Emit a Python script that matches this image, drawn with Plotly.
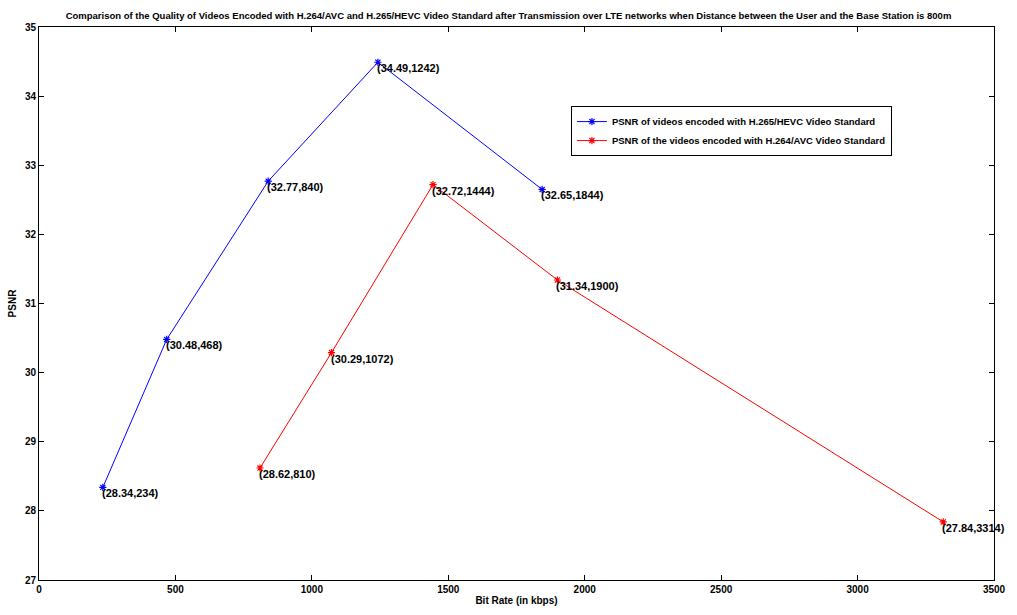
import plotly.graph_objects as go

# Bit rate (kbps) and PSNR (dB) for each codec
hevc_rate = [234, 468, 840, 1242, 1844]
hevc_psnr = [28.34, 30.48, 32.77, 34.49, 32.65]
avc_rate = [810, 1072, 1444, 1900, 3314]
avc_psnr = [28.62, 30.29, 32.72, 31.34, 27.84]

x_ticks = [0, 500, 1000, 1500, 2000, 2500, 3000, 3500]
y_ticks = [27, 28, 29, 30, 31, 32, 33, 34, 35]

FONT = "Liberation Sans, Arial, sans-serif"


def point_labels(rates, psnrs):
    return [f"({p:.2f},{r})" for r, p in zip(rates, psnrs)]


fig = go.Figure()
for name, rates, psnrs, color in [
    ("PSNR of videos encoded with H.265/HEVC Video Standard", hevc_rate, hevc_psnr, "#0000ff"),
    ("PSNR of the videos encoded with H.264/AVC Video Standard", avc_rate, avc_psnr, "#ff0000"),
]:
    fig.add_trace(go.Scatter(
        x=rates, y=psnrs, name=f"<b>{name}</b>",
        mode="lines+markers",
        line=dict(color=color, width=1),
        marker=dict(symbol="asterisk-open", size=6, color=color,
                    line=dict(color=color, width=1.2)),
    ))
    # value labels placed just below-right of each point
    for r, p, t in zip(rates, psnrs, point_labels(rates, psnrs)):
        fig.add_annotation(x=r, y=p, text=f"<b>{t}</b>", showarrow=False,
                           xanchor="left", yanchor="top", xshift=-3, yshift=2,
                           font=dict(family=FONT, size=11, color="black"))

axis_common = dict(
    showline=True, linecolor="black", linewidth=1, mirror="ticks",
    ticks="inside", ticklen=5, tickcolor="black", tickwidth=1,
    showgrid=False, zeroline=False,
    tickfont=dict(family=FONT, size=10, color="black"),
)

fig.update_layout(
    width=1017, height=615,
    margin=dict(l=39, r=11, t=27, b=27),
    paper_bgcolor="white", plot_bgcolor="white",
    title=dict(
        text="<b>Comparison of the Quality of Videos Encoded with H.264/AVC and H.265/HEVC Video Standard "
             "after Transmission over LTE networks when Distance between the User and the Base Station is 800m</b>",
        x=0.5, xanchor="center", y=0.975, yanchor="middle",
        font=dict(family=FONT, size=9.5, color="black"),
    ),
    xaxis=dict(range=[0, 3500], tickvals=x_ticks,
               ticktext=[f"<b>{v}</b>" for v in x_ticks],
               title=dict(text="<b>Bit Rate (in kbps)</b>", standoff=2,
                          font=dict(family=FONT, size=10, color="black")),
               **axis_common),
    yaxis=dict(range=[27, 35], tickvals=y_ticks,
               ticktext=[f"<b>{v}</b>" for v in y_ticks],
               title=dict(text="<b>PSNR</b>", standoff=6,
                          font=dict(family=FONT, size=10, color="black")),
               **axis_common),
    legend=dict(x=0.557, y=0.857, xanchor="left", yanchor="top",
                bgcolor="white", bordercolor="black", borderwidth=1,
                font=dict(family=FONT, size=9.5, color="black"),
                tracegroupgap=0, itemwidth=30),
    showlegend=True,
)

fig.write_html("out.html")
